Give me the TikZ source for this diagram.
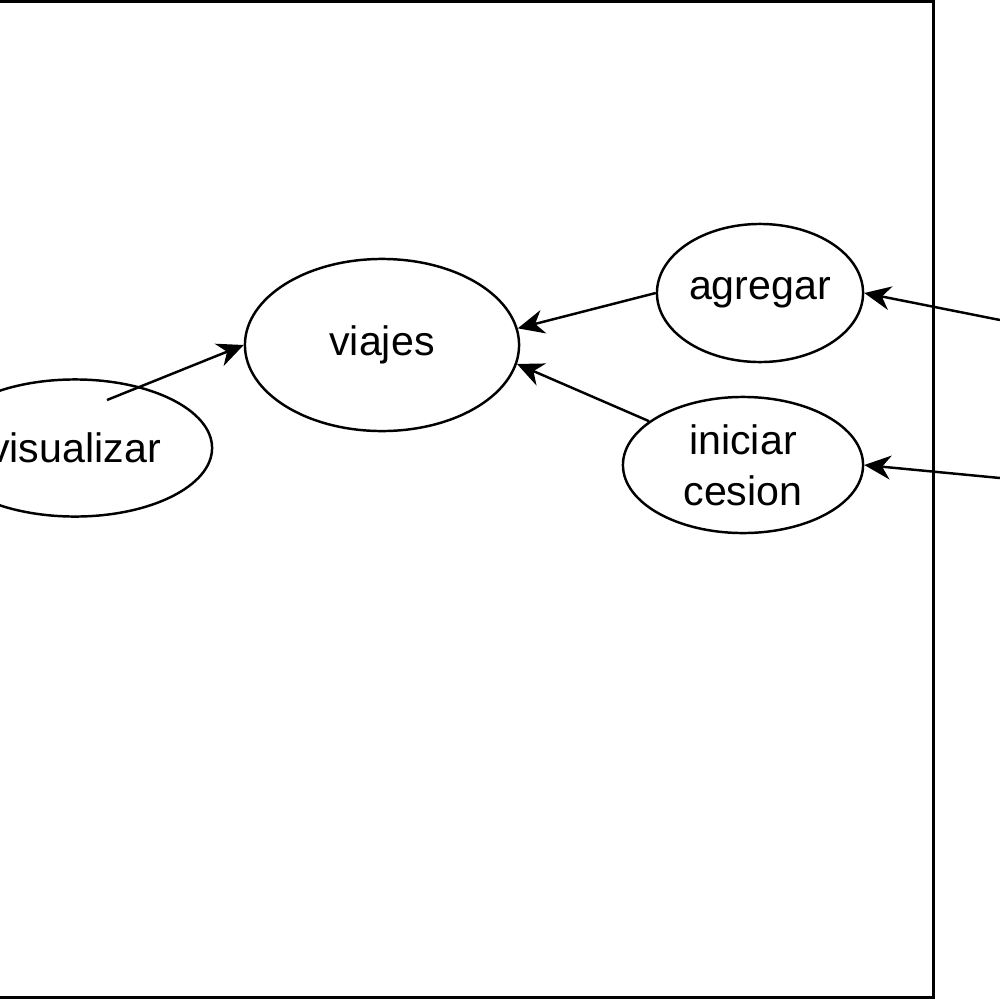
\documentclass[tikz,border=0pt]{standalone}
\usepackage{fontspec}
\setmainfont{Liberation Sans}
\usetikzlibrary{arrows.meta, shapes.geometric}

\begin{document}
\begin{tikzpicture}[
    x=0.01cm, y=-0.01cm,
    usecase/.style={draw, ellipse, line width=0.7pt, inner sep=0pt, align=center, font=\fontsize{11.7}{14.5}\selectfont},
    arrow/.style={-{Stealth[length=7.5pt, width=6.8pt, inset=2.4pt]}, line width=0.7pt}
]
\useasboundingbox (0,0) rectangle (1000,1000);
\clip (0,0) rectangle (1000,1000);

% marco del sistema
\draw[line width=0.85pt] (-30,1.5) rectangle (933,997.5);

% casos de uso
\node[usecase, minimum width=2.74cm, minimum height=1.37cm] (visualizar) at (75,448) {visualizar};
\node[usecase, minimum width=2.74cm, minimum height=1.72cm] (viajes) at (382,345) {viajes};
\node[usecase, minimum width=2.06cm, minimum height=1.38cm] (agregar) at (760,293) {agregar};
\node[usecase, minimum width=2.40cm, minimum height=1.36cm] (iniciar) at (743,465) {iniciar\\cesion};

% extremos libres
\coordinate (visIn) at (107,400);
\coordinate (actorA) at (1000,320);
\coordinate (actorB) at (1000,478);

% flechas
\draw[arrow] (visIn) -- (viajes.west);
\draw[arrow] (agregar.west) -- (viajes.7);
\draw[arrow] (iniciar.155) -- (viajes.-8);
\draw[arrow] (actorA) -- (agregar.east);
\draw[arrow] (actorB) -- (iniciar.east);

\end{tikzpicture}
\end{document}
